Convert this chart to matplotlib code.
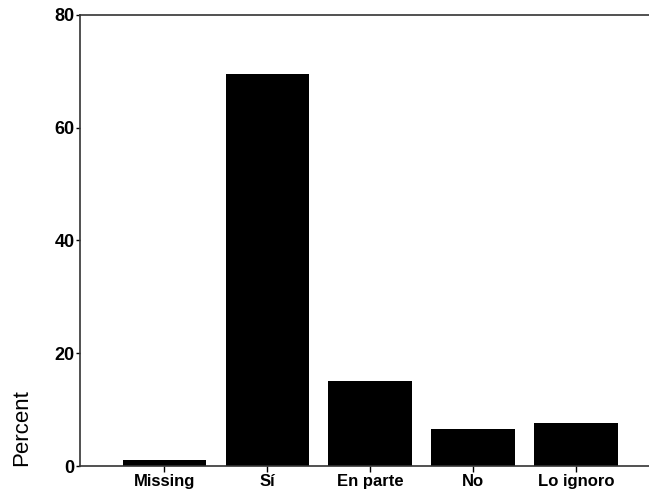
import matplotlib.pyplot as plt

categories = ["Missing", "Sí", "En parte", "No", "Lo ignoro"]
percent = [1.1, 69.5, 15.1, 6.6, 7.6]
yticks = [0, 20, 40, 60, 80]

plt.rcParams['font.family'] = ['Liberation Sans', 'DejaVu Sans']
plt.rcParams['font.weight'] = 'bold'

fig = plt.figure(figsize=(6.49, 4.94), dpi=100)
ax = fig.add_axes([80/649, 28/494, 1 - 80/649, 451/494])

x = list(range(len(categories)))
ax.bar(x, percent, width=0.81, color="black")

ax.set_xlim(-0.82, 4.71)
ax.set_ylim(0, 80)
ax.set_yticks(yticks)
ax.set_xticks(x)
ax.set_xticklabels(categories, fontsize=12, fontweight='bold')
ax.set_yticklabels([str(t) for t in yticks], fontsize=13, fontweight='bold')
ax.tick_params(axis='y', direction='out', length=3, width=1, pad=1)
ax.tick_params(axis='x', direction='out', length=4, width=1, pad=2)

ax.spines['right'].set_visible(False)
for s in ['left', 'top', 'bottom']:
    ax.spines[s].set_linewidth(1.2)
    ax.spines[s].set_color('#333333')

fig.text(22/649, 1 - 466/494, "Percent", rotation=90, fontsize=16,
         fontweight='normal', ha='center', va='bottom')

fig.savefig("out.png", dpi=100)
